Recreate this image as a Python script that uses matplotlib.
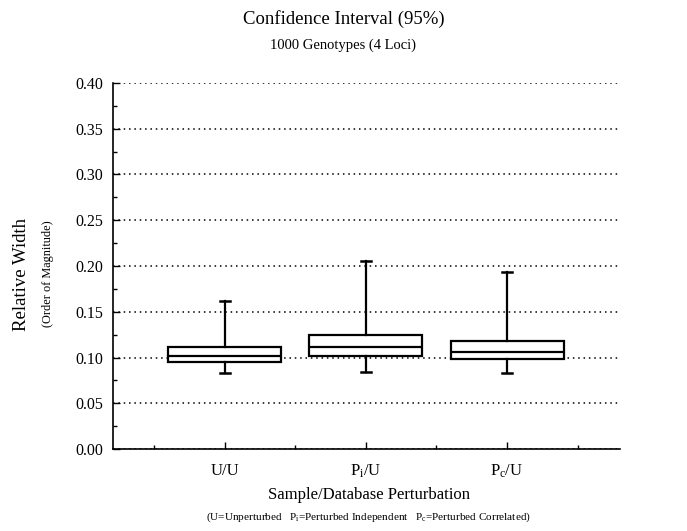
import matplotlib
matplotlib.use("Agg")
import matplotlib.pyplot as plt
from matplotlib.ticker import MultipleLocator

plt.rcParams['font.family'] = ['Liberation Serif', 'DejaVu Serif']
plt.rcParams['mathtext.fontset'] = 'custom'
plt.rcParams['mathtext.rm'] = 'Liberation Serif'
plt.rcParams['mathtext.it'] = 'Liberation Serif:italic'

# values
categories = ['U/U', r'P$\mathregular{_i}$/U', r'P$\mathregular{_c}$/U']
whisker_low = [0.083, 0.084, 0.083]
box_low = [0.0955, 0.1015, 0.098]
medians = [0.102, 0.1115, 0.106]
box_high = [0.111, 0.1245, 0.1185]
whisker_high = [0.162, 0.2055, 0.193]
ytick_labels = ['0.00', '0.05', '0.10', '0.15', '0.20', '0.25', '0.30', '0.35', '0.40']

stats = []
for i in range(len(categories)):
    stats.append({
        'whislo': whisker_low[i], 'q1': box_low[i], 'med': medians[i],
        'q3': box_high[i], 'whishi': whisker_high[i], 'fliers': [],
    })

fig = plt.figure(figsize=(6.87, 5.31), dpi=100)
ax = fig.add_axes([0.1645, 0.1544, 0.738, 0.6893])

# dotted grid behind the boxes
ax.yaxis.grid(True, linestyle=(0, (1, 2.5)), color='black', linewidth=1.1)
ax.set_axisbelow(True)

ax.bxp(stats, positions=[1, 2, 3], widths=0.8, capwidths=0.07,
       showfliers=False, patch_artist=True,
       boxprops=dict(facecolor='white', edgecolor='black', linewidth=1.6),
       medianprops=dict(color='black', linewidth=1.6),
       whiskerprops=dict(color='black', linewidth=1.6),
       capprops=dict(color='black', linewidth=1.8))

ax.set_xlim(0.21, 3.8)
ax.set_ylim(0, 0.40)
ax.yaxis.set_minor_locator(MultipleLocator(0.025))
ax.set_yticks([i * 0.05 for i in range(len(ytick_labels))])
ax.set_yticklabels(ytick_labels, fontsize=11.5)
ax.set_xticks([1, 2, 3])
ax.set_xticklabels(categories, fontsize=12)
ax.set_xticks([0.5, 1.5, 2.5, 3.5], minor=True)

ax.tick_params(axis='both', which='both', direction='in', width=1)
ax.tick_params(axis='y', which='major', length=5, pad=7)
ax.tick_params(axis='x', which='major', length=5, pad=10)
ax.tick_params(axis='both', which='minor', length=3)

ax.spines['top'].set_visible(False)
ax.spines['right'].set_visible(False)
ax.spines['left'].set_linewidth(1.2)
ax.spines['bottom'].set_linewidth(1.2)

fig.text(0.5, 0.965, 'Confidence Interval (95%)', ha='center', va='center', fontsize=13.5)
fig.text(0.5, 0.915, '1000 Genotypes (4 Loci)', ha='center', va='center', fontsize=10.5)

fig.text(0.032, 0.483, 'Relative Width', rotation=90, ha='center', va='center', fontsize=13.5)
fig.text(0.070, 0.485, '(Order of Magnitude)', rotation=90, ha='center', va='center', fontsize=8.8)

fig.text(0.537, 0.068, 'Sample/Database Perturbation', ha='center', va='center', fontsize=12)
fig.text(0.537, 0.026,
         r'(U=Unperturbed   P$\mathregular{_i}$=Perturbed Independent   '
         r'P$\mathregular{_c}$=Perturbed Correlated)',
         ha='center', va='center', fontsize=8.1)

fig.savefig('out.png', dpi=100)
